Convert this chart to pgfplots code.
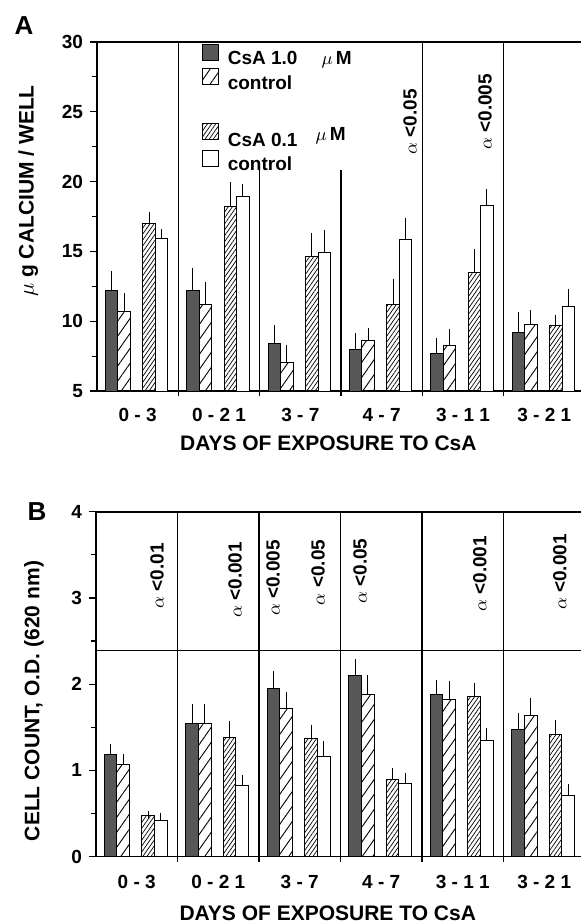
\documentclass[border=0pt]{standalone}
\usepackage{fontspec}
\setmainfont{Liberation Sans}
\usepackage{pgfplots}
\pgfplotsset{compat=1.18}
\usetikzlibrary{patterns.meta}

\tikzset{pnote/.style={rotate=90, font=\fontsize{9.5}{11}\selectfont\bfseries}}
\pgfplotsset{
  sqlegend/.style={legend image code/.code={\draw[##1] (0pt,-0.5pt) rectangle (8pt,7.5pt);}},
  barbase/.style={ybar, bar width=0.155, bar shift=0pt, draw=black, line width=0.5pt, sqlegend,
    error bars/y dir=plus, error bars/y explicit,
    error bars/error bar style={line width=0.5pt, black},
    error bars/error mark options={line width=0.5pt, mark size=2pt, black}},
  darkbar/.style={barbase, fill=black!66},
  lightbar/.style={barbase, pattern={Lines[angle=55,distance=4.3pt,line width=0.45pt]}},
  densebar/.style={barbase, pattern={Lines[angle=55,distance=1.7pt,line width=0.35pt]}},
  whitebar/.style={barbase, fill=white},
  panel/.style={
    scale only axis, anchor=south west,
    xmin=-0.5, xmax=5.5,
    axis line style={line width=0.8pt},
    tick align=outside, major tick length=3.5pt, minor tick length=2.5pt,
    tick style={line width=0.6pt, black},
    xtick={0,...,5},
    xticklabels={0 - 3, 0 - 2 1, 3 - 7, 4 - 7, 3 - 1 1, 3 - 2 1},
    major x tick style={draw=none},
    minor xtick={0.5,1.5,2.5,3.5,4.5},
    xtick pos=bottom, ytick pos=left,
    minor y tick num=1,
    /pgf/number format/assume math mode=true,
    ticklabel style={font=\fontsize{9.5}{11}\selectfont\bfseries},
    label style={font=\fontsize{10.5}{12}\selectfont\bfseries},
    xlabel={DAYS OF EXPOSURE TO CsA},
  },
}

\begin{document}
\begin{tikzpicture}
\path[use as bounding box] (0pt,0pt) rectangle (290.5pt,-462pt);

\node[font=\fontsize{13}{15}\selectfont\bfseries] at (12pt,-13pt) {A};
\begin{axis}[panel,
  at={(48.5pt,-195.5pt)}, width=244pt, height=174.5pt,
  ymin=5, ymax=30, ytick={5,10,...,30},
  xticklabel style={yshift=-1.5pt},
  ylabel={$\mu$ g CALCIUM / WELL},
  ylabel style={at={(axis description cs:-0.141,0.573)}, anchor=center},
  xlabel style={at={(axis description cs:0.474,-0.149)}, anchor=center},
  legend style={at={(axis cs:0.79,29.87)}, anchor=north west, draw=none, fill=none,
    inner sep=0pt, font=\fontsize{9.5}{11}\selectfont\bfseries,
    nodes={inner sep=1.25pt, text depth=1.5pt}, column sep=3pt, row sep=-1pt},
  legend cell align=left,
]
% CsA 1.0 uM
\addplot[darkbar] coordinates {
 (-0.32,12.18) +- (0,1.15)
 (0.68,12.18) +- (0,1.37)
 (1.68,8.41) +- (0,1.0)
 (2.68,7.94) +- (0,0.9)
 (3.68,7.67) +- (0,0.86)
 (4.68,9.18) +- (0,1.17)
};
% control (1.0)
\addplot[lightbar] coordinates {
 (-0.165,10.73) +- (0,1.0)
 (0.835,11.23) +- (0,1.27)
 (1.835,7.05) +- (0,0.95)
 (2.835,8.63) +- (0,0.6)
 (3.835,8.27) +- (0,0.86)
 (4.835,9.78) +- (0,0.76)
};
\addlegendimage{empty legend}
% CsA 0.1 uM
\addplot[densebar] coordinates {
 (0.14,17.01) +- (0,0.5)
 (1.14,18.2) +- (0,1.48)
 (2.14,14.62) +- (0,1.43)
 (3.14,11.23) +- (0,1.53)
 (4.14,13.5) +- (0,1.36)
 (5.14,9.68) +- (0,0.5)
};
% control (0.1)
\addplot[whitebar] coordinates {
 (0.295,15.91) +- (0,0.4)
 (1.295,18.92) +- (0,0.65)
 (2.295,14.93) +- (0,1.3)
 (3.295,15.84) +- (0,1.29)
 (4.295,18.3) +- (0,0.9)
 (5.295,11.07) +- (0,0.97)
};
\legend{{CsA 1.0\hspace{12pt}$\mu$\,M}, control, \rule{0pt}{12pt}, {CsA 0.1\hspace{9pt}\raisebox{3pt}{$\mu$\,M}}, control}

\draw[line width=0.6pt] (axis cs:0.5,5) -- (axis cs:0.5,30);
\draw[line width=0.6pt] (axis cs:1.5,5) -- (axis cs:1.5,20.8);
\draw[line width=0.6pt] (axis cs:2.5,5) -- (axis cs:2.5,20.8);
\draw[line width=0.6pt] (axis cs:3.5,5) -- (axis cs:3.5,30);
\draw[line width=0.6pt] (axis cs:4.5,5) -- (axis cs:4.5,30);
\node[pnote] at (axis cs:3.35,24.27) {$\alpha$ <0.05};
\node[pnote] at (axis cs:4.27,25.0) {$\alpha$ <0.005};
\end{axis}

\node[font=\fontsize{13}{15}\selectfont\bfseries] at (18.5pt,-256pt) {B};
\begin{axis}[panel,
  at={(48pt,-428.25pt)}, width=244.5pt, height=172.4pt,
  ymin=0, ymax=4, ytick={0,1,2,3,4},
  xticklabel style={yshift=-2.5pt},
  ylabel={CELL COUNT, O.D. (620 nm)},
  ylabel style={at={(axis description cs:-0.127,0.451)}, anchor=center},
  xlabel style={at={(axis description cs:0.474,-0.165)}, anchor=center},
]
\addplot[darkbar] coordinates {
 (-0.32,1.18) +- (0,0.075)
 (0.68,1.545) +- (0,0.175)
 (1.68,1.95) +- (0,0.155)
 (2.68,2.1) +- (0,0.14)
 (3.68,1.885) +- (0,0.115)
 (4.68,1.475) +- (0,0.145)
};
\addplot[lightbar] coordinates {
 (-0.165,1.07) +- (0,0.07)
 (0.835,1.545) +- (0,0.175)
 (1.835,1.72) +- (0,0.145)
 (2.835,1.885) +- (0,0.175)
 (3.835,1.82) +- (0,0.175)
 (4.835,1.64) +- (0,0.155)
};
\addplot[densebar] coordinates {
 (0.14,0.47) +- (0,0.01)
 (1.14,1.38) +- (0,0.15)
 (2.14,1.37) +- (0,0.11)
 (3.14,0.895) +- (0,0.08)
 (4.14,1.86) +- (0,0.11)
 (5.14,1.417) +- (0,0.123)
};
\addplot[whitebar] coordinates {
 (0.295,0.42) +- (0,0.035)
 (1.295,0.82) +- (0,0.08)
 (2.295,1.166) +- (0,0.125)
 (3.295,0.85) +- (0,0.076)
 (4.295,1.35) +- (0,0.1)
 (5.295,0.713) +- (0,0.085)
};
\draw[line width=0.6pt] (axis cs:-0.5,2.39) -- (axis cs:5.5,2.39);
\draw[line width=0.6pt] (axis cs:0.5,0) -- (axis cs:0.5,4);
\draw[line width=0.6pt] (axis cs:1.5,0) -- (axis cs:1.5,4);
\draw[line width=0.6pt] (axis cs:2.5,0) -- (axis cs:2.5,4);
\draw[line width=0.6pt] (axis cs:3.5,0) -- (axis cs:3.5,4);
\draw[line width=0.6pt] (axis cs:4.5,0) -- (axis cs:4.5,4);
\node[pnote] at (axis cs:0.248,3.254) {$\alpha$ <0.01};
\node[pnote] at (axis cs:1.206,3.21) {$\alpha$ <0.001};
\node[pnote] at (axis cs:1.672,3.23) {$\alpha$ <0.005};
\node[pnote] at (axis cs:2.224,3.295) {$\alpha$ <0.05};
\node[pnote] at (axis cs:2.74,3.31) {$\alpha$ <0.05};
\node[pnote] at (axis cs:4.21,3.28) {$\alpha$ <0.001};
\node[pnote] at (axis cs:5.19,3.30) {$\alpha$ <0.001};
\end{axis}
\end{tikzpicture}
\end{document}
